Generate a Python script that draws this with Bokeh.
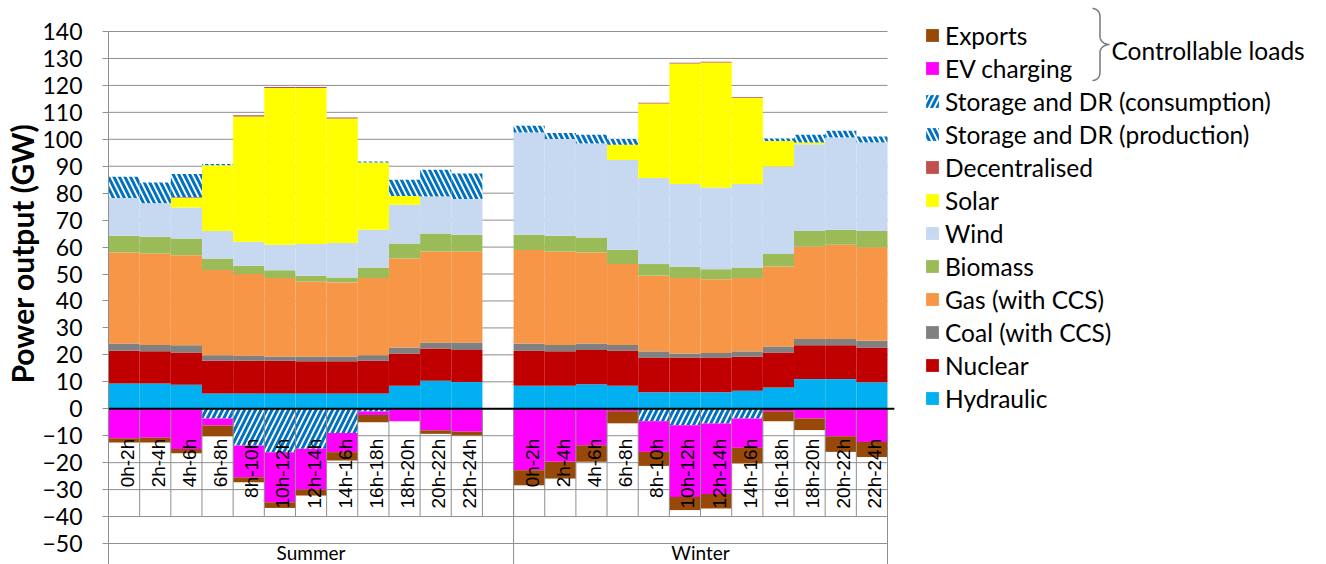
import numpy as np
from bokeh.plotting import figure
from bokeh.models import (ColumnDataSource, Range1d, FixedTicker, Legend,
                          LegendItem, Label, Band, Title)
from bokeh.transform import stack
from bokeh.core.properties import value
from bokeh.embed import file_html
from bokeh.resources import INLINE

# ---------------- data ----------------
hours = ["0h-2h", "2h-4h", "4h-6h", "6h-8h", "8h-10h", "10h-12h",
         "12h-14h", "14h-16h", "16h-18h", "18h-20h", "20h-22h", "22h-24h"]
seasons = ["Summer", "Winter"]

# 24 values each: 12 summer slots then 12 winter slots (GW)
hydraulic = [9.4, 9.4, 8.9, 5.7, 5.7, 5.7, 5.7, 5.7, 5.7, 8.5, 10.4, 9.9,
             8.5, 8.5, 9.1, 8.5, 6.1, 6.1, 6.1, 6.7, 7.9, 11.0, 11.0, 9.8]
nuclear = [12.1, 11.9, 12.0, 12.1, 12.1, 12.1, 11.9, 11.9, 12.1, 12.0, 12.0, 11.9,
           13.0, 12.8, 12.7, 13.0, 12.9, 12.9, 12.9, 12.6, 13.0, 12.6, 12.6, 12.9]
coal = [2.7, 2.4, 2.7, 2.1, 1.9, 1.6, 1.8, 1.8, 2.1, 2.2, 2.2, 2.8,
        2.7, 2.4, 2.4, 2.2, 2.3, 1.5, 1.7, 2.0, 2.2, 2.3, 2.3, 2.5]
gas = [33.8, 33.9, 33.4, 31.6, 30.3, 29.1, 27.8, 27.5, 28.6, 33.1, 33.8, 33.8,
       34.7, 34.7, 33.8, 30.0, 28.1, 28.0, 27.4, 27.2, 29.7, 34.3, 35.0, 34.7]
biomass = [6.2, 6.2, 6.2, 4.3, 3.1, 2.9, 2.2, 1.8, 3.9, 5.5, 6.6, 6.2,
           5.7, 5.8, 5.6, 5.3, 4.3, 4.2, 3.7, 3.9, 4.6, 5.8, 5.5, 6.1]
wind = [14.0, 12.5, 11.5, 10.2, 8.9, 9.5, 11.7, 12.8, 14.0, 14.4, 13.8, 13.2,
        37.9, 35.9, 34.8, 33.3, 31.9, 30.7, 30.3, 31.0, 32.5, 32.2, 34.3, 32.8]
solar = [0, 0, 3.5, 24.4, 46.5, 58.1, 57.9, 46.2, 25.0, 3.3, 0, 0,
         0, 0, 0, 5.7, 27.7, 44.7, 46.4, 31.9, 9.5, 0.6, 0, 0]
decentralised = [0, 0, 0.3, 0, 0.4, 0.4, 0.4, 0.4, 0, 0, 0, 0,
                 0, 0, 0, 0, 0.3, 0.3, 0.3, 0.3, 0, 0, 0, 0]
storage_prod = [7.9, 7.7, 8.6, 0.4, 0, 0, 0, 0, 0.4, 6.0, 9.9, 9.5,
                2.5, 2.2, 3.3, 2.1, 0, 0, 0, 0, 0.9, 2.9, 2.5, 2.2]
storage_cons = [0, 0, 0, -3.6, -13.6, -16.1, -14.8, -9.0, -1.0, 0, 0, 0,
                0, 0, 0, -0.3, -4.6, -6.1, -5.5, -3.6, 0, 0, 0, 0]
ev_charging = [-10.9, -10.8, -14.9, -2.6, -11.8, -18.6, -15.2, -7.1, -1.3, -4.6, -8.0, -8.5,
               -22.8, -19.7, -13.5, -0.6, -11.4, -26.6, -26.1, -10.9, -0.9, -3.6, -10.2, -12.3]
exports = [-1.6, -1.7, -1.6, -4.0, -1.9, -2.1, -2.2, -3.1, -2.7, 0, -1.3, -1.4,
           -5.6, -6.2, -6.2, -4.5, -5.2, -4.9, -5.4, -5.8, -3.7, -4.3, -5.8, -5.6]

y_ticks = list(range(-50, 141, 10))

# ---------------- layout (page pixels) ----------------
W, H = 1326, 564
PLOT_L, PLOT_R = 108, 887        # x extent of the bar area
Y_TOP_PX, Y_BOT_PX = 31, 543     # pixel rows of 140 and -50

n = len(hours)
slots_per_group = n + 1                      # one empty slot after summer
xs = [g * slots_per_group + i + 0.5 for g in range(len(seasons)) for i in range(n)]
total_slots = slots_per_group * len(seasons) - 1
labels = [h for _ in seasons for h in hours]

ppu = (Y_BOT_PX - Y_TOP_PX) / (max(y_ticks) - min(y_ticks))
y_end = max(y_ticks) + Y_TOP_PX / ppu
y_start = min(y_ticks) - (H - Y_BOT_PX) / ppu
x_end = total_slots * (W - PLOT_L) / (PLOT_R - PLOT_L)

src = ColumnDataSource(dict(
    x=xs, label=labels,
    hydraulic=hydraulic, nuclear=nuclear, coal=coal, gas=gas, biomass=biomass,
    wind=wind, solar=solar, decentralised=decentralised, storage_prod=storage_prod,
    storage_cons=storage_cons, ev_charging=ev_charging, exports=exports))

FONT = "Lato"
GRID = "#8f8f8f"
BLUE_HATCH = "#0070C0"

p = figure(width=W, height=H, output_backend="svg", toolbar_location=None,
           x_range=Range1d(0, x_end), y_range=Range1d(y_start, y_end),
           x_axis_location=None,
           min_border_left=PLOT_L, min_border_right=0, min_border_top=0,
           min_border_bottom=0)
p.outline_line_color = None
p.background_fill_color = "white"
p.xgrid.visible = False
p.ygrid.visible = False

yax = p.yaxis[0]
yax.ticker = FixedTicker(ticks=y_ticks)
yax.bounds = (y_start, max(y_ticks))
yax.axis_line_color = GRID
yax.major_tick_line_color = GRID
yax.major_tick_out = 6
yax.major_tick_in = 0
yax.minor_tick_line_color = None
yax.major_label_standoff = 20
yax.major_label_text_font = FONT
yax.major_label_text_font_size = "23px"
yax.major_label_text_color = "black"

p.add_layout(Title(text="Power output (GW)", align="left", offset=H - 383,
                   text_font=FONT, text_font_style="bold", text_font_size="30px",
                   text_color="black", standoff=0), "left")

# horizontal gridlines limited to the bar area
p.segment(x0=[0] * len(y_ticks), y0=y_ticks, x1=[total_slots] * len(y_ticks),
          y1=y_ticks, line_color=GRID, line_width=1, level="underlay")

pos_series = [
    ("hydraulic", "Hydraulic", "#00B0F0", None),
    ("nuclear", "Nuclear", "#C00000", None),
    ("coal", "Coal (with CCS)", "#808080", None),
    ("gas", "Gas (with CCS)", "#F79646", None),
    ("biomass", "Biomass", "#9BBB59", None),
    ("wind", "Wind", "#C6D9F1", None),
    ("solar", "Solar", "#FFFF00", None),
    ("decentralised", "Decentralised", "#C0504D", None),
    ("storage_prod", "Storage and DR (production)", BLUE_HATCH, "\\"),
]
neg_series = [
    ("storage_cons", "Storage and DR (consumption)", BLUE_HATCH, "/"),
    ("ev_charging", "EV charging", "#FF00FF", None),
    ("exports", "Exports", "#984807", None),
]

renderers = {}
for series in (pos_series, neg_series):
    names = [s[0] for s in series]
    for i, (name, lab, col, hatch) in enumerate(series):
        kw = dict(x="x", width=1, source=src, fill_color=col, line_color=None,
                  bottom=stack(*names[:i]), top=stack(*names[:i + 1]))
        if hatch:
            kw.update(fill_color="white", hatch_pattern=hatch, hatch_color=col,
                      hatch_weight=3, hatch_scale=11)
        renderers[name] = (p.vbar(**kw), lab)

# category separators (multi-level axis drawn in the plot)
bounds = list(range(total_slots + 1))
p.segment(x0=bounds, y0=[0] * len(bounds), x1=bounds, y1=[-40] * len(bounds),
          line_color=GRID, line_width=1)
group_bounds = [0, slots_per_group, total_slots]
p.segment(x0=group_bounds, y0=[0] * 3, x1=group_bounds,
          y1=[y_start] * 3, line_color=GRID, line_width=1)

# zero line
p.segment(x0=[0], y0=[0], x1=[total_slots + 0.22], y1=[0],
          line_color="black", line_width=2)

# hour labels, rotated
p.text(x="x", y=0, text="label", source=src, angle=np.pi / 2,
       text_align="right", text_baseline="middle", x_offset=3, y_offset=30,
       text_font=value("Liberation Sans"), text_font_size="19px",
       text_color="black")

# season labels
gx = [slots_per_group / 2, (slots_per_group + total_slots) / 2]
p.text(x=gx, y=[min(y_ticks)] * 2, text=seasons, text_align="center",
       text_baseline="middle", y_offset=9,
       text_font=value(FONT), text_font_size="19px", text_color="black")

# legend
order = ["exports", "ev_charging", "storage_cons", "storage_prod", "decentralised",
         "solar", "wind", "biomass", "gas", "coal", "nuclear", "hydraulic"]
items = [LegendItem(label=renderers[k][1], renderers=[renderers[k][0]]) for k in order]
ITEM_H = 33
first_center = 35
legend_bottom = first_center - ITEM_H / 2 + ITEM_H * len(items)
legend = Legend(items=items, location=(924 - PLOT_L, H - legend_bottom),
                orientation="vertical",
                glyph_width=16, glyph_height=16, label_standoff=5,
                label_text_font=FONT, label_text_font_size="24.5px",
                label_text_color="black", label_height=ITEM_H, spacing=0,
                padding=0, margin=0, border_line_color=None,
                background_fill_alpha=0)
p.add_layout(legend)

# brace for "Controllable loads" (screen units relative to frame bottom-left)
t = np.linspace(0, np.pi / 2, 20)
top, mid = 8.0, 44.0
hook_x, spine_x, tip_x = 1092.0, 1099.5, 1109.0
seg1_y = top + 8 * (1 - np.cos(t)); seg1_x = hook_x + (spine_x - hook_x) * np.sin(t)
seg2_y = (mid - 8) + 8 * np.sin(t); seg2_x = tip_x - (tip_x - spine_x) * np.cos(t)
yu = np.concatenate([seg1_y, seg2_y]); xu = np.concatenate([seg1_x, seg2_x])
yl = (2 * mid - yu)[::-1]; xl = xu[::-1]
by = np.concatenate([yu, yl]); bx = np.concatenate([xu, xl])
brace_src = ColumnDataSource(dict(base=H - by, lower=bx - PLOT_L, upper=bx - PLOT_L))
brace = Band(base="base", lower="lower", upper="upper", source=brace_src,
             dimension="width", base_units="screen", lower_units="screen",
             upper_units="screen", fill_alpha=0, line_color="black",
             line_width=1.5, level="annotation")
p.add_layout(brace)
p.add_layout(Label(x=1111 - PLOT_L, y=H - 50, x_units="screen", y_units="screen",
                   text="Controllable loads", text_baseline="middle",
                   text_font=FONT, text_font_size="24.5px", text_color="black"))

open("out.html", "w").write(file_html(p, INLINE))
